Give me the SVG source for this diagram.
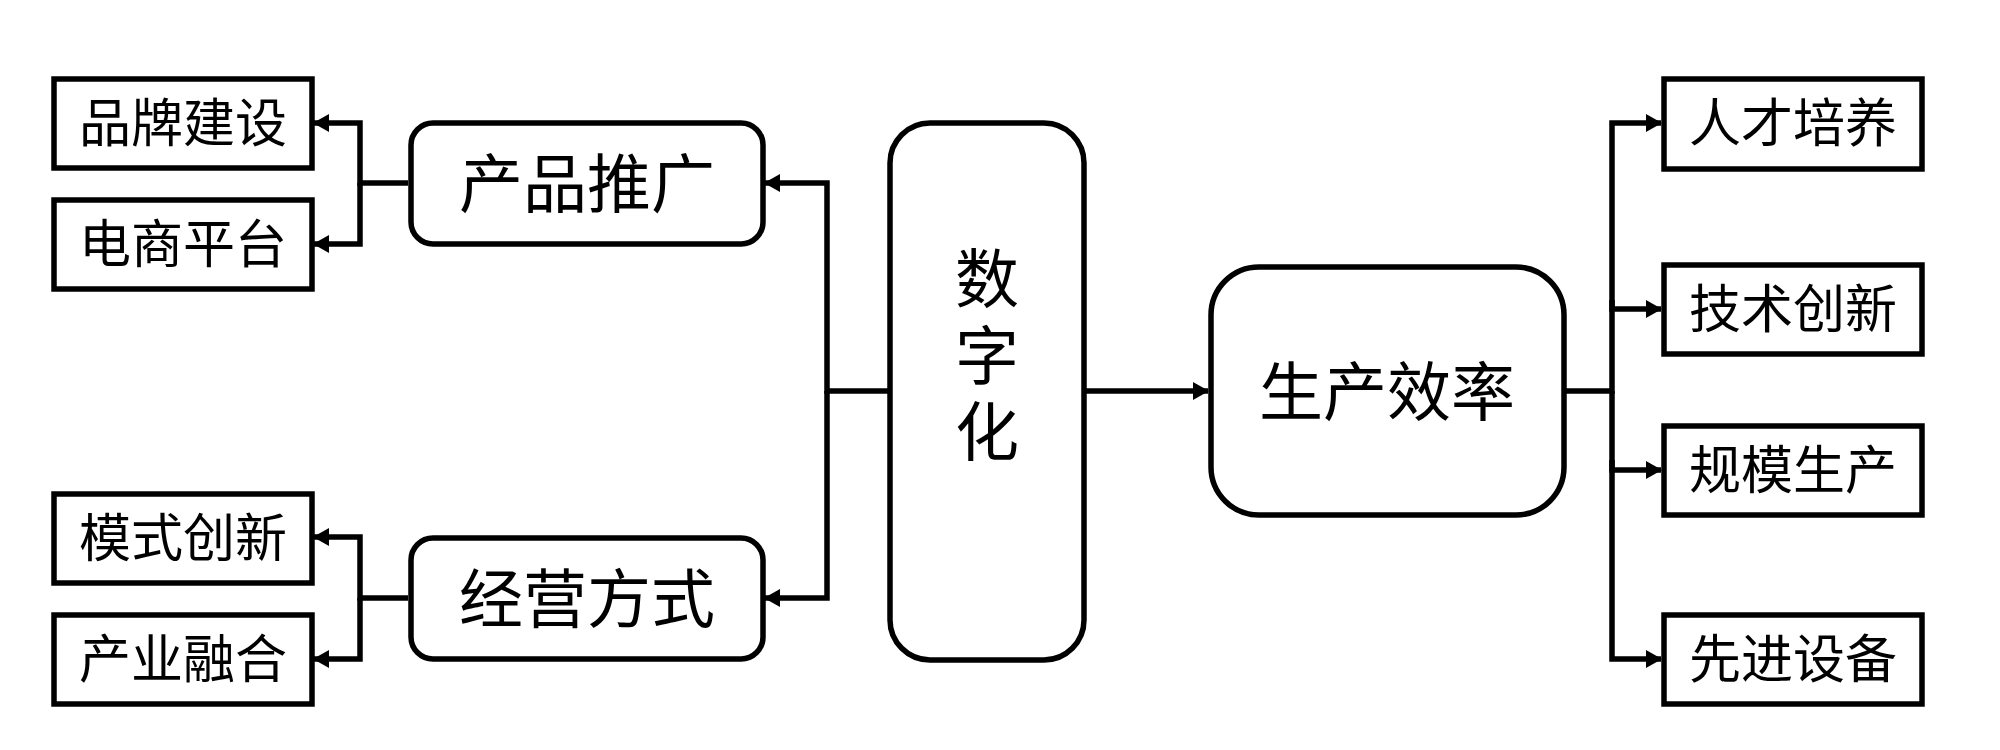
<svg xmlns="http://www.w3.org/2000/svg" width="2000" height="750" viewBox="0 0 2000 750">
<style>
.box{fill:#fff;stroke:#000;stroke-width:5.5}
.t{font-family:"Liberation Serif","Noto Sans CJK SC",serif;fill:#000;text-anchor:middle;dominant-baseline:central}
.s{font-size:52px}
.m{font-size:64px}
.c{fill:none;stroke:#000;stroke-width:5.5}
</style>
<defs>
<marker id="ah" markerUnits="userSpaceOnUse" markerWidth="18" markerHeight="20" refX="15" refY="9" orient="auto">
<path d="M0,0 L16,9 L0,18 Z" fill="#000"/>
</marker>
</defs>
<rect width="2000" height="750" fill="#fff"/>
<g id="connectors">
<path class="c" d="M888,391 H827 V183 H765" marker-end="url(#ah)"/>
<path class="c" d="M827,391 V598 H765" marker-end="url(#ah)"/>
<path class="c" d="M408,183 H360 V123 H314" marker-end="url(#ah)"/>
<path class="c" d="M360,183 V244 H314" marker-end="url(#ah)"/>
<path class="c" d="M408,598 H360 V537 H314" marker-end="url(#ah)"/>
<path class="c" d="M360,598 V659 H314" marker-end="url(#ah)"/>
<path class="c" d="M1083,391 H1208" marker-end="url(#ah)"/>
<path class="c" d="M1564,391 H1612 V123 H1661" marker-end="url(#ah)"/>
<path class="c" d="M1612,300 V309 H1661" marker-end="url(#ah)"/>
<path class="c" d="M1612,391 V470 H1661" marker-end="url(#ah)"/>
<path class="c" d="M1612,460 V659 H1661" marker-end="url(#ah)"/>
</g>
<g id="n-pinpai"><rect class="box" x="54" y="79" width="258" height="89"/><text class="t s" x="183" y="124">品牌建设</text></g>
<g id="n-dianshang"><rect class="box" x="54" y="200" width="258" height="89"/><text class="t s" x="183" y="245">电商平台</text></g>
<g id="n-moshi"><rect class="box" x="54" y="494" width="258" height="89"/><text class="t s" x="183" y="539">模式创新</text></g>
<g id="n-chanye"><rect class="box" x="54" y="615" width="258" height="89"/><text class="t s" x="183" y="660">产业融合</text></g>
<g id="n-chanpin"><rect class="box" x="411" y="123" width="352" height="121" rx="22"/><text class="t m" x="587" y="185">产品推广</text></g>
<g id="n-jingying"><rect class="box" x="411" y="538" width="352" height="121" rx="22"/><text class="t m" x="587" y="600">经营方式</text></g>
<g id="n-shuzihua"><rect class="box" x="890" y="123" width="194" height="537" rx="40"/>
<text class="t m" x="987" y="280">数</text><text class="t m" x="987" y="357">字</text><text class="t m" x="987" y="433">化</text></g>
<g id="n-xiaolv"><rect class="box" x="1211" y="267" width="353" height="248" rx="48"/><text class="t m" x="1387" y="393">生产效率</text></g>
<g id="n-rencai"><rect class="box" x="1664" y="79" width="258" height="90"/><text class="t s" x="1793" y="124">人才培养</text></g>
<g id="n-jishu"><rect class="box" x="1664" y="265" width="258" height="89"/><text class="t s" x="1793" y="310">技术创新</text></g>
<g id="n-guimo"><rect class="box" x="1664" y="426" width="258" height="89"/><text class="t s" x="1793" y="471">规模生产</text></g>
<g id="n-xianjin"><rect class="box" x="1664" y="615" width="258" height="89"/><text class="t s" x="1793" y="660">先进设备</text></g>
</svg>
